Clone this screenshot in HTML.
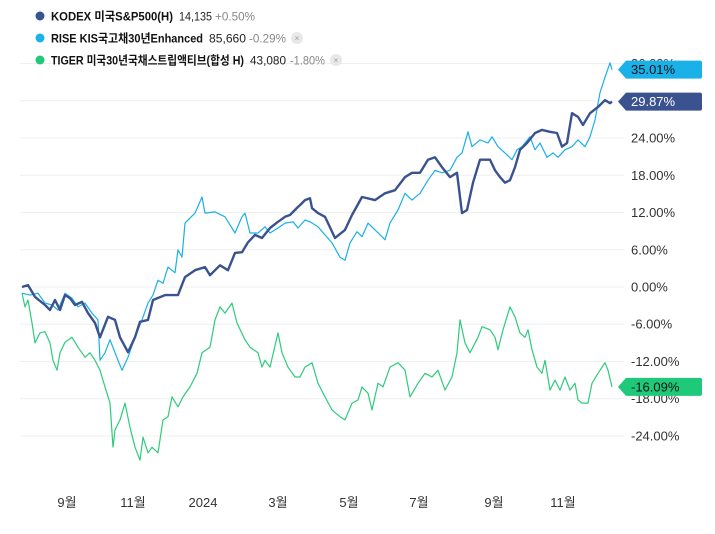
<!DOCTYPE html>
<html><head><meta charset="utf-8">
<style>
body{margin:0;background:#fff;width:715px;height:529px;overflow:hidden;font-family:"Liberation Sans","Noto Sans CJK KR",sans-serif;}
svg text{font-family:"Liberation Sans","Noto Sans CJK KR",sans-serif;}
</style></head>
<body>
<svg id="chart" width="715" height="529" xmlns="http://www.w3.org/2000/svg">
<g id="grid"></g>
<g id="legend">
 <rect x="20" y="0" width="400" height="62" fill="#fff"/>
 <g>
  <circle cx="40" cy="16" r="4.5" fill="#3b5290"/>
  <text x="51" y="20.5" font-size="12" font-weight="bold" fill="#111" textLength="122" lengthAdjust="spacingAndGlyphs">KODEX 미국S&amp;P500(H)</text>
  <text x="179" y="20.5" font-size="12" fill="#222" textLength="33" lengthAdjust="spacingAndGlyphs">14,135</text>
  <text x="215" y="20.5" font-size="12" fill="#888" textLength="40" lengthAdjust="spacingAndGlyphs">+0.50%</text>
 </g>
 <g>
  <circle cx="40" cy="38" r="4.5" fill="#1ab0e8"/>
  <text x="51" y="42.5" font-size="12" font-weight="bold" fill="#111" textLength="152" lengthAdjust="spacingAndGlyphs">RISE KIS국고채30년Enhanced</text>
  <text x="209" y="42.5" font-size="12" fill="#222" textLength="37" lengthAdjust="spacingAndGlyphs">85,660</text>
  <text x="249" y="42.5" font-size="12" fill="#888" textLength="37" lengthAdjust="spacingAndGlyphs">-0.29%</text>
  <circle cx="297" cy="38" r="6" fill="#e8e8e8"/>
  <text x="297" y="41" font-size="8" text-anchor="middle" fill="#999">×</text>
 </g>
 <g>
  <circle cx="40" cy="60" r="4.5" fill="#1ec97a"/>
  <text x="51" y="64.5" font-size="12" font-weight="bold" fill="#111" textLength="193" lengthAdjust="spacingAndGlyphs">TIGER 미국30년국채스트립액티브(합성 H)</text>
  <text x="250" y="64.5" font-size="12" fill="#222" textLength="36" lengthAdjust="spacingAndGlyphs">43,080</text>
  <text x="290" y="64.5" font-size="12" fill="#888" textLength="35" lengthAdjust="spacingAndGlyphs">-1.80%</text>
  <circle cx="336" cy="60" r="6" fill="#e8e8e8"/>
  <text x="336" y="63" font-size="8" text-anchor="middle" fill="#999">×</text>
 </g>
</g>
<g id="series"></g>
<g id="axis"></g>
<g id="badges"></g>
</svg>
<script>
const yTicks=[36,30,24,18,12,6,0,-6,-12,-18,-24];
const monthLabels=["9월","11월","2024","3월","5월","7월","9월","11월"];
const monthDays=[47,113,183,258,329,399,474,543];
const kodexDays=[2,8,15,25,30,35,40,45,50,55,62,68,75,80,88,95,100,108,115,120,128,133,145,158,165,175,185,190,200,208,215,222,228,235,242,250,258,265,270,278,280,285,290,292,298,305,315,325,332,342,355,365,375,385,392,400,408,415,422,430,437,442,447,453,460,470,475,480,485,490,495,500,507,515,522,530,537,542,547,552,558,563,570,578,585,590,592];
const kodexVals=[0.0,0.3,-1.6,-2.9,-3.7,-2.1,-3.7,-1.3,-1.8,-2.9,-2.4,-4.2,-5.8,-8.1,-4.8,-5.3,-8.1,-10.5,-8.1,-5.6,-5.3,-2.1,-1.3,-1.3,1.6,2.7,3.2,1.9,3.5,2.7,5.5,5.6,7.2,8.4,7.9,9.5,10.5,11.3,11.6,12.9,13.2,14.0,14.3,12.7,11.9,11.3,7.9,9.2,11.6,14.5,14.0,15.1,15.6,17.7,18.4,18.4,20.5,20.9,19.3,17.7,18.4,11.9,12.4,16.8,20.5,20.5,18.8,17.7,16.8,17.2,19.3,22.1,23.2,24.8,25.3,25.0,24.8,22.6,23.2,28.0,27.4,26.1,28.0,29.0,30.1,29.6,29.87];
const riseDays=[2,10,18,25,32,38,45,52,58,65,72,78,80,85,90,98,102,108,115,122,128,133,138,143,148,155,158,162,165,175,182,185,195,205,215,222,225,230,238,245,250,258,265,273,278,285,290,298,305,312,320,325,330,337,342,348,355,362,365,370,378,385,392,400,408,415,422,430,437,442,448,452,460,468,472,478,485,492,497,502,510,515,520,527,533,538,545,552,558,565,570,575,580,585,590,592];
const riseVals=[-1.0,-1.3,-1.0,-2.6,-2.9,-3.7,-1.0,-1.8,-3.2,-2.6,-4.2,-5.3,-11.8,-10.6,-8.5,-11.8,-13.4,-11.3,-8.1,-5.3,-2.6,-1.3,1.1,0.6,3.2,2.3,6.0,4.8,10.3,11.9,14.5,11.9,12.1,11.3,8.7,11.3,11.9,8.7,8.7,9.7,8.7,9.5,10.3,10.5,9.5,10.8,10.5,9.7,8.4,7.1,4.8,4.3,7.1,8.9,8.1,10.3,9.2,8.1,7.6,10.3,12.4,15.1,14.0,15.1,17.2,18.8,18.4,18.8,20.9,21.6,25.0,22.6,23.7,23.2,24.2,22.6,21.6,20.5,22.1,22.6,24.2,22.1,23.2,20.9,21.6,20.9,22.1,22.6,23.7,22.6,24.2,26.9,31.3,33.8,36.1,35.01];
const tigerDays=[2,5,8,12,15,20,25,30,33,37,40,45,52,58,65,70,75,80,85,90,93,95,100,105,110,115,120,123,128,132,138,143,148,152,158,163,170,177,182,190,195,200,205,212,217,225,230,238,242,245,250,258,262,268,275,280,285,292,298,305,312,320,325,332,338,342,348,352,358,363,370,378,385,390,398,405,412,418,425,432,437,440,445,450,458,462,470,475,478,483,487,490,495,500,505,508,512,517,522,525,530,535,540,545,550,555,558,562,568,572,578,585,588,592];
const tigerVals=[-1.0,-3.2,-2.1,-5.8,-9.0,-7.4,-7.2,-9.0,-11.8,-13.4,-10.6,-8.9,-8.1,-9.7,-11.3,-10.6,-11.8,-13.4,-16.1,-18.7,-25.8,-23.0,-21.4,-18.7,-22.6,-25.8,-27.9,-24.2,-26.7,-25.8,-26.7,-21.4,-20.9,-17.7,-19.3,-17.7,-16.1,-13.9,-10.6,-9.7,-5.3,-3.2,-4.2,-2.6,-5.8,-8.5,-9.7,-10.6,-12.9,-11.8,-12.9,-7.4,-10.6,-12.9,-14.5,-14.5,-12.9,-12.2,-15.5,-17.7,-19.8,-20.9,-21.4,-18.7,-18.2,-16.1,-17.1,-19.8,-15.5,-16.1,-12.9,-12.2,-13.4,-17.7,-15.5,-13.9,-14.5,-13.4,-16.6,-14.5,-10.6,-5.3,-9.0,-10.6,-8.1,-6.4,-6.9,-8.1,-10.1,-6.9,-4.8,-3.2,-4.8,-7.4,-8.1,-6.9,-10.1,-12.9,-13.9,-11.8,-16.6,-15.0,-16.6,-14.5,-16.6,-15.5,-18.2,-18.7,-18.7,-15.5,-13.9,-12.2,-13.4,-16.09];

const NS="http://www.w3.org/2000/svg";
const xS=d=>20+d;
const yS=v=>287-v*6.208;
function mk(tag,attrs,parent){const e=document.createElementNS(NS,tag);for(const k in attrs)e.setAttribute(k,attrs[k]);parent.appendChild(e);return e;}
const grid=document.getElementById('grid'),axis=document.getElementById('axis'),ser=document.getElementById('series'),badges=document.getElementById('badges');
yTicks.forEach(t=>{
  const l=mk('line',{x1:20,x2:624,y1:yS(t),y2:yS(t),stroke:'#efefef','stroke-width':1},grid);
  
  
  const tx=mk('text',{x:631,y:yS(t)+4.5,'font-size':13,fill:'#333'},axis);
  tx.textContent=t.toFixed(2)+'%';
  
  
});
monthLabels.forEach((m,i)=>{
  const tx=mk('text',{x:xS(monthDays[i]),y:507,'font-size':13,fill:'#333','text-anchor':'middle'},axis);
  tx.textContent=m;
  
  
});
function line(days,vals,color,w,name){
  const d=days.map((x,i)=>(i?'L':'M')+xS(x).toFixed(1)+','+yS(vals[i]).toFixed(1)).join('');
  const p=mk('path',{d:d,fill:'none',stroke:color,'stroke-width':w,'stroke-linejoin':'round'},ser);
  
  
}
line(tigerDays,tigerVals,'#2ecb7c',1.2,'tiger-line');
line(riseDays,riseVals,'#1ab0e8',1.2,'rise-line');
line(kodexDays,kodexVals,'#3b5290',2.4,'kodex-line');
function badge(v,color,name){
  const y=yS(v);
  const g=mk('g',{},badges);
  
  
  mk('path',{d:`M618,${y} L626,${y-9} L700,${y-9} Q702,${y-9} 702,${y-7} L702,${y+7} Q702,${y+9} 700,${y+9} L626,${y+9} Z`,fill:color},g);
  const t=mk('text',{x:631,y:y+4.5,'font-size':13,fill:color==='#3b5290'?'#fff':'#111'},g);
  t.textContent=v.toFixed(2)+'%';
}
badge(riseVals[riseVals.length-1],'#1ab0e8','rise-last-value-badge');
badge(kodexVals[kodexVals.length-1],'#3b5290','kodex-last-value-badge');
badge(tigerVals[tigerVals.length-1],'#1ec97a','tiger-last-value-badge');
</script>
</body></html>
